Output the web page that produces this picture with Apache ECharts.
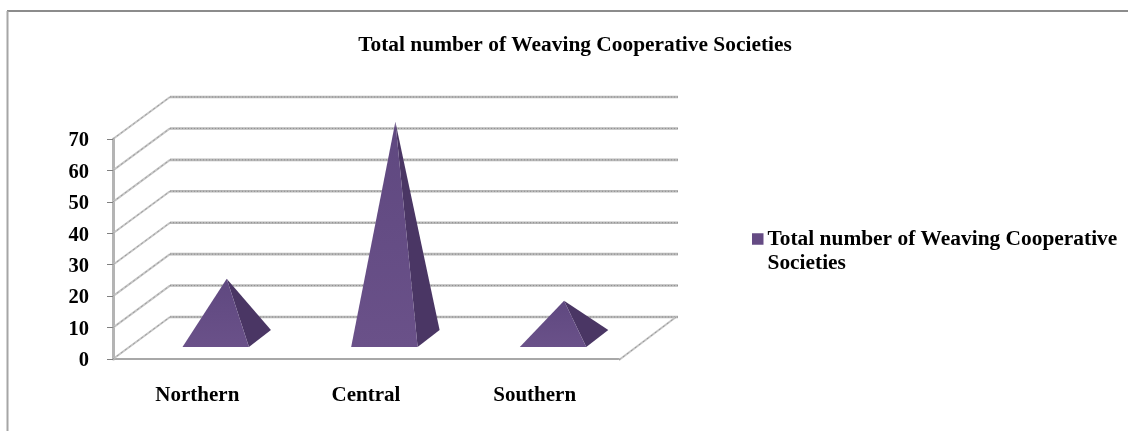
<!DOCTYPE html>
<html>
<head>
<meta charset="utf-8">
<style>html,body{margin:0;padding:0;background:#fff}#c{width:1128px;height:431px}</style>
<script src="https://cdn.jsdelivr.net/npm/echarts@6/dist/echarts.min.js"></script>
</head>
<body>
<div id="c"></div>
<script>
const categories = ['Northern', 'Central', 'Southern'];
const societies = [19, 69, 12];
const wallTicks = [0, 10, 20, 30, 40, 50, 60, 70];
const seriesName = 'Total number of Weaving Cooperative Societies';
const titleText = 'Total number of Weaving Cooperative Societies';

const FONT = '"Liberation Serif","Times New Roman",serif';
const DX = 57, DY = -42;           // depth of the 3D box
const GRID = '#b8b8b8';

function renderWalls(params, api) {
  const v = api.value(0);
  const cs = params.coordSys;
  const y = api.coord([0, v])[1];
  const x0 = cs.x, x1 = cs.x + cs.width;
  const shape = { x1: x0 + DX, y1: y + DY, x2: x1 + DX + 2, y2: y + DY };
  const side = { x1: x0, y1: y, x2: x0 + DX, y2: y + DY };
  const children = [
    { type: 'line', shape: shape, style: { stroke: GRID, lineWidth: 2.6 } },
    { type: 'line', shape: shape, style: { stroke: '#8f8f8f', lineWidth: 1, lineDash: [1, 2] } },
    { type: 'line', shape: side, style: { stroke: '#c4c4c4', lineWidth: 2 } },
    { type: 'line', shape: side, style: { stroke: '#9a9a9a', lineWidth: 1, lineDash: [2, 3] } }
  ];
  if (v === 0) {
    const floor = { x1: x1, y1: y + 1, x2: x1 + DX, y2: y + DY };
    children.push({ type: 'line', shape: floor, style: { stroke: '#c4c4c4', lineWidth: 2 } });
    children.push({ type: 'line', shape: floor, style: { stroke: '#9a9a9a', lineWidth: 1, lineDash: [2, 3] } });
  }
  return { type: 'group', children: children };
}

function renderPyramid(params, api) {
  const cat = api.value(0), val = api.value(1);
  const base = api.coord([cat, 0]);
  const top = api.coord([cat, val]);
  const band = api.size([1, 0])[0];
  const fl = base[0] - 0.088 * band, fr = base[0] + 0.306 * band, fy = base[1] - 12;
  const bx = fr + 22, by = fy - 17;
  const ax = (fl + bx) / 2, ay = top[1] - 20.5;
  return {
    type: 'group',
    children: [
      { type: 'polygon', shape: { points: [[fr, fy], [bx, by], [ax, ay]] }, style: { fill: '#4a3664' } },
      { type: 'polygon', shape: { points: [[fl, fy], [fr, fy], [ax, ay]] },
        style: { fill: new echarts.graphic.LinearGradient(0, 0, 0, 1, [
          { offset: 0, color: '#5f4880' }, { offset: 1, color: '#6a5189' }
        ]) } }
    ]
  };
}

const chart = echarts.init(document.getElementById('c'), null, { renderer: 'canvas' });
chart.setOption({
  backgroundColor: '#fff',
  animation: false,
  title: {
    text: titleText, left: 570, top: 30, textAlign: 'center',
    textStyle: { fontFamily: FONT, fontWeight: 'bold', fontSize: 21.4, color: '#000' }
  },
  legend: {
    left: 747, top: 198, orient: 'vertical',
    data: [{ name: seriesName, icon: 'rect', itemStyle: { color: '#654b84' } }],
    itemWidth: 11.5, itemHeight: 11.5, itemGap: 0,
    formatter: () => '\nTotal number of Weaving Cooperative\nSocieties',
    textStyle: { fontFamily: FONT, fontWeight: 'bold', fontSize: 21.4, color: '#000', lineHeight: 24, padding: [0, 0, 0, -1] }
  },
  grid: { left: 113, right: 509, top: 139, bottom: 72, containLabel: false },
  xAxis: {
    type: 'category', data: categories,
    axisLine: { lineStyle: { color: '#a8a8a8', width: 2 } },
    axisTick: { length: 6, lineStyle: { color: '#808080', width: 1 } },
    axisLabel: { fontFamily: FONT, fontWeight: 'bold', fontSize: 21, color: '#000', margin: 26 }
  },
  yAxis: {
    type: 'value', min: 0, max: 70, interval: 10,
    axisLine: { show: true, lineStyle: { color: '#b4b4b4', width: 3 } },
    axisTick: { show: true, length: 6, lineStyle: { color: '#808080', width: 1 } },
    splitLine: { show: false },
    axisLabel: { fontFamily: FONT, fontWeight: 'bold', fontSize: 20.5, color: '#000', margin: 24, verticalAlign: 'top', padding: [-8.5, 0, 0, 0] }
  },
  series: [
    { type: 'custom', name: 'walls', silent: true, clip: false, z: 1,
      data: wallTicks.map(v => [v]), encode: { y: 0 }, renderItem: renderWalls },
    { type: 'custom', name: seriesName, clip: false, z: 3,
      itemStyle: { color: '#654b84' },
      data: societies.map((v, i) => [i, v]), encode: { x: 0, y: 1 }, renderItem: renderPyramid }
  ],
  graphic: [
    { type: 'line', shape: { x1: 7, y1: 11, x2: 1128, y2: 11 }, style: { stroke: '#8c8c8c', lineWidth: 2 } },
    { type: 'line', shape: { x1: 7.5, y1: 11, x2: 7.5, y2: 431 }, style: { stroke: '#a6a6a6', lineWidth: 2 } }
  ]
});
</script>
</body>
</html>
